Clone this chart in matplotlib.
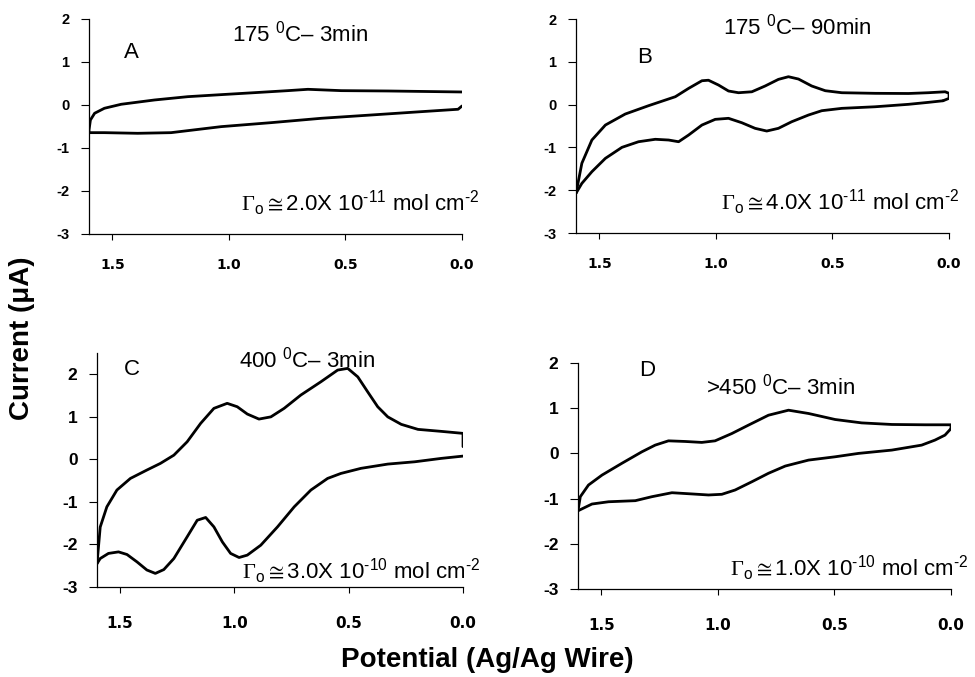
"""Cyclic voltammograms of films annealed at different temperatures."""
import matplotlib
matplotlib.use("Agg")
import matplotlib.pyplot as plt

plt.rcParams['font.family'] = ['Liberation Sans', 'DejaVu Sans']
plt.rcParams['mathtext.fontset'] = 'custom'
plt.rcParams['mathtext.rm'] = 'Liberation Sans'
plt.rcParams['mathtext.it'] = 'Liberation Sans:italic'
plt.rcParams['mathtext.bf'] = 'Liberation Sans:bold'
plt.rcParams['mathtext.sf'] = 'Liberation Serif'

# --- data: potential (V vs Ag/Ag wire) and current (uA) ---
# A: 175 C, 3 min
a_fwd_v = [1.60, 1.60, 1.594, 1.576, 1.534, 1.462, 1.319, 1.176, 1.033, 0.89, 0.747, 0.661, 0.518, 0.318, 0.0]
a_fwd_i = [-0.64, -0.58, -0.35, -0.193, -0.077, 0.016, 0.116, 0.193, 0.24, 0.286, 0.333, 0.364, 0.333, 0.325, 0.302]
a_rev_v = [0.0, 0.017, 0.175, 0.389, 0.604, 0.818, 1.033, 1.176, 1.248, 1.391, 1.534, 1.60]
a_rev_i = [-0.023, -0.10, -0.156, -0.233, -0.31, -0.411, -0.504, -0.597, -0.644, -0.659, -0.644, -0.644]

# B: 175 C, 90 min
b_fwd_v = [1.60, 1.575, 1.532, 1.474, 1.389, 1.289, 1.174, 1.117, 1.06, 1.032, 0.989, 0.946, 0.903,
           0.846, 0.789, 0.732, 0.689, 0.646, 0.589, 0.531, 0.46, 0.317, 0.174, 0.089, 0.017, 0.0, 0.0, 0.026]
b_fwd_i = [-2.07, -1.37, -0.827, -0.477, -0.22, -0.025, 0.185, 0.38, 0.558, 0.57, 0.458, 0.318, 0.278,
           0.30, 0.435, 0.59, 0.652, 0.598, 0.435, 0.325, 0.278, 0.264, 0.26, 0.278, 0.30, 0.264, 0.147, 0.09]
b_rev_v = [0.026, 0.089, 0.174, 0.317, 0.46, 0.546, 0.603, 0.675, 0.732, 0.782, 0.832, 0.889, 0.946,
           1.003, 1.06, 1.117, 1.16, 1.203, 1.26, 1.332, 1.403, 1.474, 1.532, 1.575, 1.60]
b_rev_i = [0.09, 0.053, 0.007, -0.05, -0.087, -0.142, -0.243, -0.40, -0.554, -0.617, -0.554, -0.423, -0.32,
           -0.344, -0.477, -0.71, -0.867, -0.827, -0.81, -0.867, -0.998, -1.255, -1.567, -1.84, -2.07]

# C: 400 C, 3 min
c_fwd_v = [1.60, 1.586, 1.557, 1.513, 1.454, 1.382, 1.323, 1.264, 1.206, 1.147, 1.089, 1.031, 0.987,
           0.943, 0.892, 0.84, 0.782, 0.709, 0.621, 0.548, 0.504, 0.46, 0.417, 0.373, 0.329, 0.27,
           0.197, 0.095, 0.0, 0.0]
c_fwd_i = [-2.45, -1.59, -1.115, -0.72, -0.447, -0.25, -0.094, 0.10, 0.414, 0.847, 1.20, 1.318, 1.238,
           1.066, 0.948, 1.0, 1.20, 1.513, 1.826, 2.10, 2.14, 1.94, 1.59, 1.238, 1.0, 0.824,
           0.706, 0.659, 0.612, 0.30]
c_rev_v = [0.0, 0.095, 0.211, 0.329, 0.446, 0.534, 0.592, 0.665, 0.738, 0.811, 0.884, 0.943, 0.979,
           1.016, 1.052, 1.089, 1.125, 1.162, 1.206, 1.264, 1.308, 1.345, 1.382, 1.425, 1.469, 1.506,
           1.55, 1.586, 1.60]
c_rev_i = [0.078, 0.024, -0.056, -0.11, -0.21, -0.33, -0.447, -0.72, -1.115, -1.586, -2.016, -2.25, -2.306,
           -2.21, -1.94, -1.586, -1.365, -1.43, -1.82, -2.33, -2.59, -2.68, -2.60, -2.41, -2.235, -2.174,
           -2.21, -2.33, -2.45]

# D: >450 C, 3 min
d_fwd_v = [1.60, 1.59, 1.555, 1.497, 1.412, 1.326, 1.269, 1.212, 1.14, 1.069, 1.012, 0.94, 0.869,
           0.783, 0.697, 0.611, 0.497, 0.383, 0.254, 0.111, 0.0, 0.0]
d_fwd_i = [-1.27, -0.958, -0.70, -0.48, -0.22, 0.035, 0.183, 0.278, 0.264, 0.243, 0.278, 0.44, 0.625,
           0.845, 0.956, 0.883, 0.75, 0.675, 0.64, 0.633, 0.633, 0.55]
d_rev_v = [0.0, 0.026, 0.069, 0.126, 0.254, 0.397, 0.497, 0.611, 0.711, 0.783, 0.854, 0.926, 0.983,
           1.04, 1.111, 1.197, 1.283, 1.354, 1.469, 1.54, 1.60]
d_rev_i = [0.55, 0.404, 0.294, 0.183, 0.073, 0.0, -0.075, -0.148, -0.28, -0.44, -0.627, -0.81, -0.905,
           -0.92, -0.897, -0.87, -0.958, -1.046, -1.07, -1.12, -1.27]

HY = '\u2010'  # plain hyphen inside superscripts (mathtext turns '-' into a minus)

panel_letters = ['A', 'B', 'C', 'D']
conditions = ['175 $^{0}$C\u2013 3min', '175 $^{0}$C\u2013 90min', '400 $^{0}$C\u2013 3min', '>450 $^{0}$C\u2013 3min']
coverages = ['2.0X 10$^{' + HY + '11}$', '4.0X 10$^{' + HY + '11}$',
             '3.0X 10$^{' + HY + '10}$', '1.0X 10$^{' + HY + '10}$']
x_ticks = [1.5, 1.0, 0.5, 0.0]
y_ticks = [-3, -2, -1, 0, 1, 2]

curves = [
    (a_fwd_v, a_fwd_i, a_rev_v, a_rev_i),
    (b_fwd_v, b_fwd_i, b_rev_v, b_rev_i),
    (c_fwd_v, c_fwd_i, c_rev_v, c_rev_i),
    (d_fwd_v, d_fwd_i, d_rev_v, d_rev_i),
]

# axes rectangles and label placement per panel
boxes = [
    [0.0913, 0.6544, 0.3826, 0.3176],
    [0.5908, 0.6558, 0.3826, 0.3161],
    [0.0995, 0.1329, 0.3754, 0.3456],
    [0.5928, 0.1300, 0.3826, 0.3338],
]
y_tops = [2, 2, 2.5, 2]
ytick_size = [10.5, 10.5, 12.5, 12.5]
xtick_size = [10, 10, 11, 11]
xtick_pad = [13, 13, 17, 17]
letter_pos = [(1.418, 1.21), (1.306, 1.10), (1.447, 2.12), (1.304, 1.84)]
cond_pos = [(0.695, 1.67), (0.653, 1.82), (0.68, 2.34), (0.733, 1.49)]
cov_pos = [(0.948, -2.28), (0.98, -2.27), (0.967, -2.64), (0.95, -2.54)]

fig = plt.figure(figsize=(9.75, 6.77), dpi=100)

for k in range(4):
    ax = fig.add_axes(boxes[k])
    fv, fi, rv, ri = curves[k]
    ax.plot(fv, fi, color='black', lw=2.0, solid_joinstyle='round', solid_capstyle='round')
    ax.plot(rv, ri, color='black', lw=2.0, solid_joinstyle='round', solid_capstyle='round')

    ax.set_xlim(1.6, 0.0)
    ax.set_ylim(-3, y_tops[k])
    ax.set_xticks(x_ticks)
    ax.set_xticklabels([f'{t:.1f}' for t in x_ticks], fontweight='bold',
                       fontsize=xtick_size[k], family='DejaVu Sans')
    ax.set_yticks(y_ticks)
    ax.set_yticklabels([str(t) for t in y_ticks], fontweight='bold', fontsize=ytick_size[k])
    ax.tick_params(axis='y', direction='out', length=5.5, width=0.8, pad=8.5)
    ax.tick_params(axis='x', direction='out', length=4, width=0.8, pad=xtick_pad[k])
    for side in ['top', 'right']:
        ax.spines[side].set_visible(False)
    for side in ['left', 'bottom']:
        ax.spines[side].set_linewidth(0.9)

    ax.text(*letter_pos[k], panel_letters[k], fontsize=16, ha='center', va='center')
    ax.text(*cond_pos[k], conditions[k], fontsize=16, ha='center', va='center')
    ax.text(*cov_pos[k],
            r'$\mathsf{\Gamma}_{\rm o}\cong$' + coverages[k] + ' mol cm$^{' + HY + '2}$',
            fontsize=16, ha='left', va='center', clip_on=False)

fig.text(0.023, 0.50, 'Current (\u03bcA)', rotation=90, fontsize=20, fontweight='bold',
         ha='center', va='center')
fig.text(0.50, 0.025, 'Potential (Ag/Ag Wire)', fontsize=20, fontweight='bold',
         ha='center', va='center')

fig.savefig('out.png', dpi=100, facecolor='white')
